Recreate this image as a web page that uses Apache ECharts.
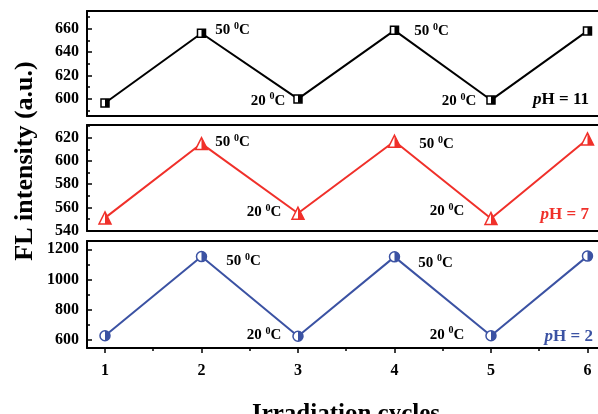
<!DOCTYPE html>
<html>
<head>
<meta charset="utf-8">
<script src="https://cdn.jsdelivr.net/npm/echarts@6/dist/echarts.min.js"></script>
<style>html,body{margin:0;padding:0;background:#fff;overflow:hidden;}#c{width:598px;height:414px;}</style>
</head>
<body>
<div id="c"></div>
<script>
// ---- data ----
const cycles = [1, 2, 3, 4, 5, 6];
const ph11 = [596.5, 656, 600, 658.5, 599, 658];
const ph7 = [551, 615, 555, 617, 550.5, 619];
const ph2 = [628, 1152, 625, 1150, 628, 1155];
const tempLabels = ['', '50', '20', '50', '20', ''];
const phNames = ['pH = 11', 'pH = 7', 'pH = 2'];
const xTicks = [1, 2, 3, 4, 5, 6];
const xMinorTicks = [1.5, 2.5, 3.5, 4.5, 5.5];
const yTicks11 = [600, 620, 640, 660];
const yMinor11 = [590, 610, 630, 650, 670];
const yTicks7 = [540, 560, 580, 600, 620];
const yMinor7 = [550, 570, 590, 610, 630];
const yTicks2 = [600, 800, 1000, 1200];
const yMinor2 = [700, 900, 1100];

// ---- styles / layout ----
const FONT = "'Liberation Serif','Times New Roman',serif";
const colors = ['#000000', '#f0302a', '#3b52a3'];
const X_MIN = 0.8135, X_MAX = 6.109;
const grids = [
  { left: 87, right: 0, top: 11, height: 105 },
  { left: 87, right: 0, top: 125, height: 106 },
  { left: 87, right: 0, top: 241, height: 107 }
];
const yRanges = [[585.4, 675], [539.7, 631], [547, 1255]];
const labelOffsets = [
  [null, ['right', [9, -3]], ['left', [-8, 2]], ['right', [15, 1]], ['left', [-10, 1]], null],
  [null, ['right', [7, -1]], ['left', [-10, -1]], ['right', [18, 3]], ['left', [-20, -7]], null],
  [null, ['right', [19, 5]], ['left', [-11, -1]], ['right', [18, 6]], ['left', [-21, -1]], null]
];
const symbolSpecs = [
  { full: 'rect', half: 'rect', w: 8, h: 8 },
  { full: 'triangle', half: 'path://M0 0L1 1L0 1Z', w: 12, h: 12 },
  { full: 'circle', half: 'path://M0 0A1 1 0 0 1 0 2Z', w: 10, h: 10 }
];
const phTextPos = [[589, 100], [589, 215], [593, 337]];

const seriesData = [ph11, ph7, ph2];
const yMajor = [yTicks11, yTicks7, yTicks2];
const yMinor = [yMinor11, yMinor7, yMinor2];

const AXIS_LINE = { show: true, onZero: false, lineStyle: { color: '#000', width: 2 } };
const xAxes = [], yAxes = [], series = [];
const xIdx = [], yIdx = [];
for (let g = 0; g < 3; g++) {
  const isBottom = g === 2;
  xIdx.push(xAxes.length);
  xAxes.push({
    gridIndex: g, type: 'value', min: X_MIN, max: X_MAX, position: 'bottom',
    axisLine: AXIS_LINE,
    axisTick: isBottom ? { show: true, inside: false, length: 5, customValues: xTicks, lineStyle: { color: '#000', width: 1.5 } } : { show: false },
    axisLabel: isBottom ? { show: true, customValues: xTicks, margin: 15, color: '#000', fontFamily: FONT, fontWeight: 'bold', fontSize: 16, formatter: v => String(v) } : { show: false },
    splitLine: { show: false }
  });
  // top frame line
  xAxes.push({
    gridIndex: g, type: 'value', min: X_MIN, max: X_MAX, position: 'top',
    axisLine: AXIS_LINE, axisTick: { show: false }, axisLabel: { show: false }, splitLine: { show: false }
  });
  if (isBottom) {
    xAxes.push({
      gridIndex: g, type: 'value', min: X_MIN, max: X_MAX, position: 'bottom',
      axisLine: { show: false },
      axisTick: { show: true, inside: false, length: 3, customValues: xMinorTicks, lineStyle: { color: '#000', width: 1.5 } },
      axisLabel: { show: false }, splitLine: { show: false }
    });
  }
  yIdx.push(yAxes.length);
  yAxes.push({
    gridIndex: g, type: 'value', min: yRanges[g][0], max: yRanges[g][1], position: 'left',
    axisLine: AXIS_LINE,
    axisTick: { show: true, inside: true, length: 5, customValues: yMajor[g], lineStyle: { color: '#000', width: 1.5 } },
    axisLabel: { show: true, customValues: yMajor[g], margin: 8, color: '#000', fontFamily: FONT, fontWeight: 'bold', fontSize: 16, formatter: v => String(v) },
    splitLine: { show: false }
  });
  yAxes.push({
    gridIndex: g, type: 'value', min: yRanges[g][0], max: yRanges[g][1], position: 'left',
    axisLine: { show: false },
    axisTick: { show: true, inside: true, length: 3, customValues: yMinor[g], lineStyle: { color: '#000', width: 1.5 } },
    axisLabel: { show: false }, splitLine: { show: false }
  });
}

for (let g = 0; g < 3; g++) {
  const vals = seriesData[g];
  const col = colors[g];
  const sp = symbolSpecs[g];
  const data = cycles.map((c, i) => {
    const item = { value: [c, vals[i]] };
    const lo = labelOffsets[g][i];
    if (tempLabels[i] && lo) {
      item.label = { show: true, position: lo[0], offset: lo[1] };
    }
    return item;
  });
  series.push({
    type: 'line', xAxisIndex: xIdx[g], yAxisIndex: yIdx[g],
    data: data, symbol: sp.full, symbolSize: [sp.w, sp.h], showAllSymbol: true,
    lineStyle: { color: col, width: 2 },
    itemStyle: { color: '#fff', borderColor: col, borderWidth: 1.5 },
    label: {
      show: false, distance: 0,
      formatter: p => tempLabels[p.dataIndex] + ' {s|0}C',
      color: '#000', fontFamily: FONT, fontWeight: 'bold', fontSize: 15,
      rich: { s: { fontSize: 10, fontFamily: FONT, fontWeight: 'bold', color: '#000', padding: [0, 0, 8, 0] } }
    },
    emphasis: { disabled: true }, animation: false, z: 3
  });
  series.push({
    type: 'scatter', xAxisIndex: xIdx[g], yAxisIndex: yIdx[g],
    data: cycles.map((c, i) => [c, vals[i]]),
    symbol: sp.half, symbolSize: [sp.w / 2, sp.h], symbolOffset: [sp.w / 4, 0],
    itemStyle: { color: col, opacity: 1 },
    emphasis: { disabled: true }, animation: false, z: 4, silent: true
  });
}

const graphics = [
  {
    type: 'text', x: 25, y: 161, rotation: Math.PI / 2,
    style: { text: 'FL intensity (a.u.)', fill: '#000', fontFamily: FONT, fontWeight: 'bold', fontSize: 26, textAlign: 'center', textVerticalAlign: 'middle' }
  },
  {
    type: 'text', x: 346, y: 415,
    style: { text: 'Irradiation cycles', fill: '#000', fontFamily: FONT, fontWeight: 'bold', fontSize: 25, textAlign: 'center', textVerticalAlign: 'middle' }
  }
];
for (let g = 0; g < 3; g++) {
  const name = phNames[g];
  graphics.push({
    type: 'text', x: phTextPos[g][0], y: phTextPos[g][1],
    style: {
      text: '{i|' + name.charAt(0) + '}{n|' + name.slice(1) + '}',
      textAlign: 'right', textVerticalAlign: 'middle',
      fontFamily: FONT, fontWeight: 'bold', fontSize: 17, fill: colors[g],
      rich: {
        i: { fontStyle: 'italic', fontWeight: 'bold', fontFamily: FONT, fontSize: 17, fill: colors[g] },
        n: { fontWeight: 'bold', fontFamily: FONT, fontSize: 17, fill: colors[g] }
      }
    }
  });
}

const chart = echarts.init(document.getElementById('c'), null, { renderer: 'canvas' });
chart.setOption({
  backgroundColor: '#fff',
  animation: false,
  grid: grids.map(gr => Object.assign({ show: false, containLabel: false }, gr)),
  xAxis: xAxes,
  yAxis: yAxes,
  series: series,
  graphic: graphics
});
</script>
</body>
</html>
